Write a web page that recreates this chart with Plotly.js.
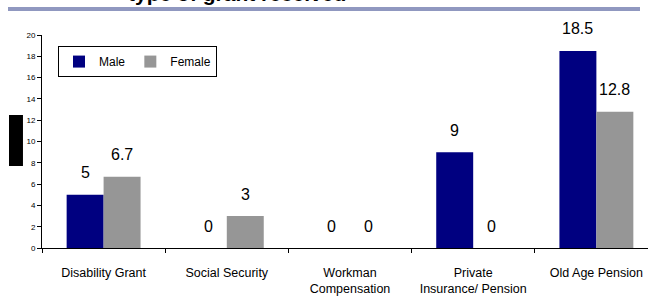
<!DOCTYPE html>
<html>
<head>
<meta charset="utf-8">
<script src="https://cdn.plot.ly/plotly-3.0.1.min.js"></script>
<style>
html,body{margin:0;padding:0;overflow:hidden;background:#fff;}
#chart{width:648px;height:298px;}
</style>
</head>
<body>
<div id="chart"></div>
<script>
const categories = ["Disability Grant", "Social Security", "Workman<br>Compensation", "Private<br>Insurance/ Pension", "Old Age Pension"];
const maleValues = [5, 0, 0, 9, 18.5];
const femaleValues = [6.7, 3, 0, 0, 12.8];
const maleLabels = ["5", "0", "0", "9", "18.5"];
const femaleLabels = ["6.7", "3", "0", "0", "12.8"];
const yTicks = [0, 2, 4, 6, 8, 10, 12, 14, 16, 18, 20];

const FONT = "Arial, 'Liberation Sans', sans-serif";

const traces = [
  {type: "bar", name: "Male", x: categories, y: maleValues, marker: {color: "#000080"}},
  {type: "bar", name: "Female", x: categories, y: femaleValues, marker: {color: "#969696"}}
];

const annotations = [];
categories.forEach((c, i) => {
  annotations.push({x: c, y: maleValues[i], xref: "x", yref: "y", text: maleLabels[i], showarrow: false,
    xshift: -18.5, yshift: 22, yanchor: "middle", font: {family: FONT, size: 16, color: "#000"}});
  annotations.push({x: c, y: femaleValues[i], xref: "x", yref: "y", text: femaleLabels[i], showarrow: false,
    xshift: 18.5, yshift: 22, yanchor: "middle", font: {family: FONT, size: 16, color: "#000"}});
});

const layout = {
  width: 648, height: 298,
  margin: {l: 42, r: 0, t: 35, b: 50, pad: 0},
  paper_bgcolor: "#fff", plot_bgcolor: "#fff",
  font: {family: FONT, color: "#000"},
  title: {text: "<b>type of grant received</b>", font: {family: FONT, size: 21, color: "#000"},
    x: 0.366, xanchor: "center", xref: "container", y: 0.996, yanchor: "bottom", yref: "container"},
  barmode: "group", bargap: 0.4, bargroupgap: 0,
  showlegend: true,
  legend: {orientation: "h", x: 0.0264, y: 0.948, xanchor: "left", yanchor: "top",
    bordercolor: "#000", borderwidth: 1, bgcolor: "#fff", itemwidth: 30,
    font: {family: FONT, size: 12, color: "#000"}},
  xaxis: {type: "category", range: [-0.5, 4.419], showline: true, linecolor: "#000", linewidth: 1,
    ticks: "outside", tickson: "boundaries", ticklen: 4, tickcolor: "#000", showgrid: false, zeroline: false,
    ticklabelstandoff: 13, tickfont: {family: FONT, size: 12.5, color: "#000"}, fixedrange: true},
  yaxis: {range: [0, 20], tickvals: yTicks, showline: true, linecolor: "#000", linewidth: 1,
    ticks: "outside", ticklen: 4, tickcolor: "#000", showgrid: false, zeroline: false,
    tickfont: {family: FONT, size: 8, color: "#000"}, fixedrange: true},
  shapes: [
    {type: "line", xref: "paper", yref: "paper", x0: -0.0561, x1: 0.9868, y0: 1.122, y1: 1.122,
      line: {color: "#9098c0", width: 4}},
    {type: "rect", xref: "paper", yref: "paper", x0: -0.0545, x1: -0.0314, y0: 0.385, y1: 0.6244,
      fillcolor: "#000", line: {width: 0}}
  ],
  annotations: annotations
};

Plotly.newPlot("chart", traces, layout, {displayModeBar: false, staticPlot: true});
</script>
</body>
</html>
